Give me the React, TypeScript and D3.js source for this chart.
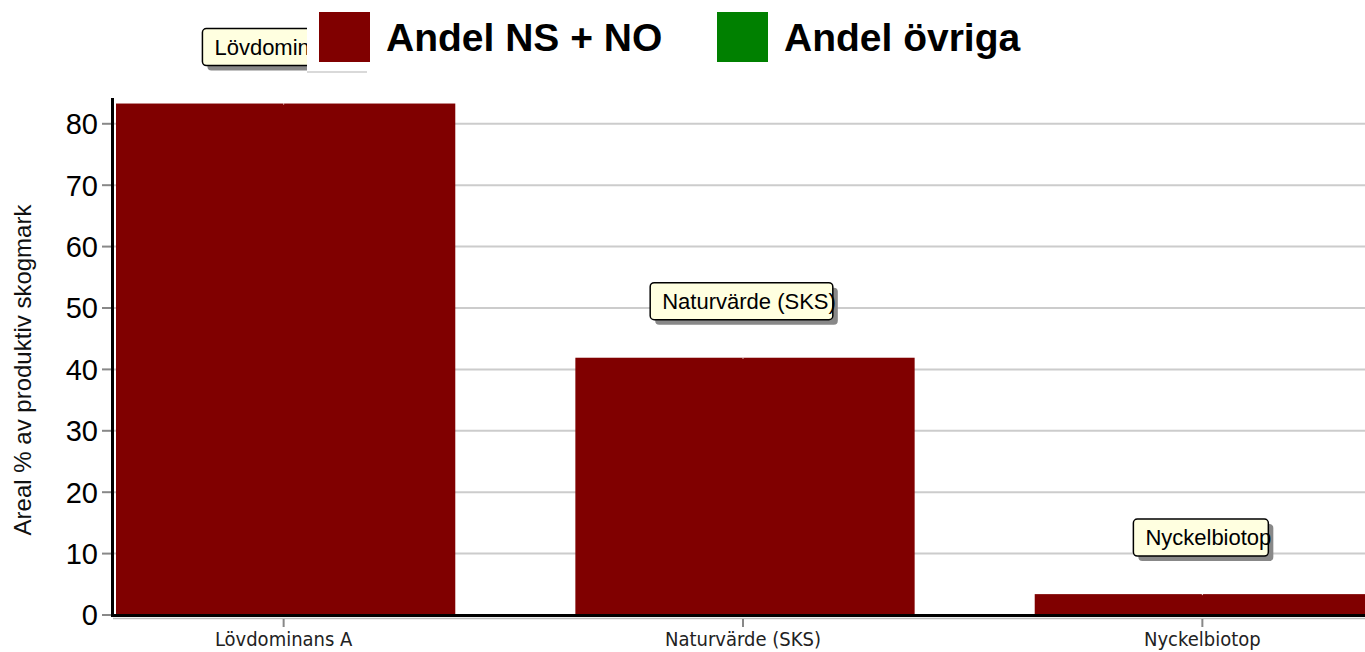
import React, { useEffect, useRef } from "react";
import * as d3 from "d3";

// chart data
const categories = ["Lövdominans A", "Naturvärde (SKS)", "Nyckelbiotop"];
const andelNsNo = [83.3, 41.9, 3.4];
const yTicks = [0, 10, 20, 30, 40, 50, 60, 70, 80];
const legendLabels = ["Andel NS + NO", "Andel övriga"];
const legendColors = ["#800000", "#008000"];
const yTitle = "Areal % av produktiv skogmark";

const W = 1365;
const H = 652;
const FONT = "'Liberation Sans', Arial, sans-serif";
const NARROW = "'Liberation Sans Narrow', 'Arial Narrow', 'DejaVu Sans Condensed', sans-serif";

export default function App() {
  const ref = useRef<SVGSVGElement>(null);

  useEffect(() => {
    const svg = d3.select(ref.current);
    svg.selectAll("*").remove();

    const x0 = 113;
    const y = d3.scaleLinear().domain([0, 84.2]).range([615, 98]);
    const x = d3.scaleBand<string>()
      .domain(categories)
      .range([116, 1374])
      .paddingInner(0.2614)
      .paddingOuter(0);

    // gridlines
    svg.append("g")
      .selectAll("line")
      .data(yTicks.filter((d) => d > 0))
      .enter().append("line")
      .attr("x1", x0)
      .attr("x2", W)
      .attr("y1", (d) => y(d))
      .attr("y2", (d) => y(d))
      .attr("stroke", "#cccccc")
      .attr("stroke-width", 2);

    // bars
    svg.append("g")
      .selectAll("rect")
      .data(andelNsNo)
      .enter().append("rect")
      .attr("x", (d, i) => x(categories[i])!)
      .attr("y", (d) => y(d))
      .attr("width", x.bandwidth())
      .attr("height", (d) => y(0) - y(d))
      .attr("fill", legendColors[0]);

    // little white marks on bar tops
    svg.append("g")
      .selectAll("line")
      .data(andelNsNo)
      .enter().append("line")
      .attr("x1", (d, i) => x(categories[i])! + x.bandwidth() / 2 - 2)
      .attr("x2", (d, i) => x(categories[i])! + x.bandwidth() / 2 - 2)
      .attr("y1", (d) => y(d))
      .attr("y2", (d) => y(d) + 1)
      .attr("stroke", "#ffffff")
      .attr("stroke-width", 1);

    // y axis
    const yAxis = svg.append("g");
    yAxis.selectAll("line.tick")
      .data(yTicks)
      .enter().append("line")
      .attr("x1", 102)
      .attr("x2", 111)
      .attr("y1", (d) => y(d))
      .attr("y2", (d) => y(d))
      .attr("stroke", "#888888")
      .attr("stroke-width", 2);
    yAxis.selectAll("text")
      .data(yTicks)
      .enter().append("text")
      .attr("x", 98)
      .attr("y", (d) => y(d))
      .attr("dy", "0.36em")
      .attr("text-anchor", "end")
      .attr("font-family", FONT)
      .attr("font-size", 29)
      .attr("fill", "#000")
      .text((d) => d);
    yAxis.append("line")
      .attr("x1", 112.5).attr("x2", 112.5)
      .attr("y1", 98).attr("y2", 617)
      .attr("stroke", "#000").attr("stroke-width", 3);

    // x axis
    svg.append("line")
      .attr("x1", x0).attr("x2", W)
      .attr("y1", 618.5).attr("y2", 618.5)
      .attr("stroke", "#bbbbbb").attr("stroke-width", 1.5);
    svg.append("line")
      .attr("x1", x0).attr("x2", W)
      .attr("y1", 615.5).attr("y2", 615.5)
      .attr("stroke", "#000").attr("stroke-width", 3);
    const xAxis = svg.append("g");
    xAxis.selectAll("line")
      .data(categories)
      .enter().append("line")
      .attr("x1", (d) => x(d)! + x.bandwidth() / 2 - 2)
      .attr("x2", (d) => x(d)! + x.bandwidth() / 2 - 2)
      .attr("y1", 619)
      .attr("y2", 627)
      .attr("stroke", "#888888")
      .attr("stroke-width", 2);
    xAxis.selectAll("text")
      .data(categories)
      .enter().append("text")
      .attr("x", (d) => x(d)! + x.bandwidth() / 2 - 2)
      .attr("y", 646)
      .attr("text-anchor", "middle")
      .attr("font-family", NARROW)
      .attr("font-size", 20)
      .attr("fill", "#222")
      .text((d) => d);

    // y title
    svg.append("text")
      .attr("transform", "translate(31,370) rotate(-90)")
      .attr("text-anchor", "middle")
      .attr("font-family", FONT)
      .attr("font-size", 24)
      .attr("fill", "#111")
      .text(yTitle);

    // tooltips
    const tips = svg.append("g");
    andelNsNo.forEach((v, i) => {
      const cx = x(categories[i])! + x.bandwidth() / 2 - 2;
      const top = y(v) - 75;
      const g = tips.append("g");
      const shadow = g.append("rect");
      const box = g.append("rect");
      const t = g.append("text")
        .attr("font-family", FONT)
        .attr("font-size", 22)
        .attr("fill", "#000")
        .attr("y", top + 26)
        .text(categories[i]);
      const len = (t.node() as SVGTextElement).getComputedTextLength();
      const tx = cx - len / 2 + 6;
      t.attr("x", tx);
      const bx = tx - 12;
      const bw = len + 9;
      shadow
        .attr("x", bx + 5).attr("y", top + 5)
        .attr("width", bw).attr("height", 37)
        .attr("rx", 4)
        .attr("fill", "#888888");
      box
        .attr("x", bx).attr("y", top)
        .attr("width", bw).attr("height", 37)
        .attr("rx", 4)
        .attr("fill", "#ffffe0")
        .attr("stroke", "#000")
        .attr("stroke-width", 1.5);
      // text overflows the box a little
      t.raise();
    });

    // legend
    const lg = svg.append("g");
    lg.append("rect")
      .attr("x", 307).attr("y", 0)
      .attr("width", 61).attr("height", 72)
      .attr("fill", "#ffffff");
    lg.append("line")
      .attr("x1", 307).attr("x2", 367)
      .attr("y1", 72).attr("y2", 72)
      .attr("stroke", "#cccccc").attr("stroke-width", 1.5);
    const legendX = [319, 717];
    legendLabels.forEach((label, i) => {
      lg.append("rect")
        .attr("x", legendX[i]).attr("y", 12)
        .attr("width", 51).attr("height", 50)
        .attr("fill", legendColors[i]);
      lg.append("text")
        .attr("x", legendX[i] + 67)
        .attr("y", 51)
        .attr("font-family", FONT)
        .attr("font-weight", "bold")
        .attr("font-size", 39)
        .attr("fill", "#000")
        .text(label);
    });
  }, []);

  return (
    <svg
      ref={ref}
      width={W}
      height={H}
      style={{ position: "absolute", left: 0, top: 0, display: "block", background: "#fff" }}
    />
  );
}
